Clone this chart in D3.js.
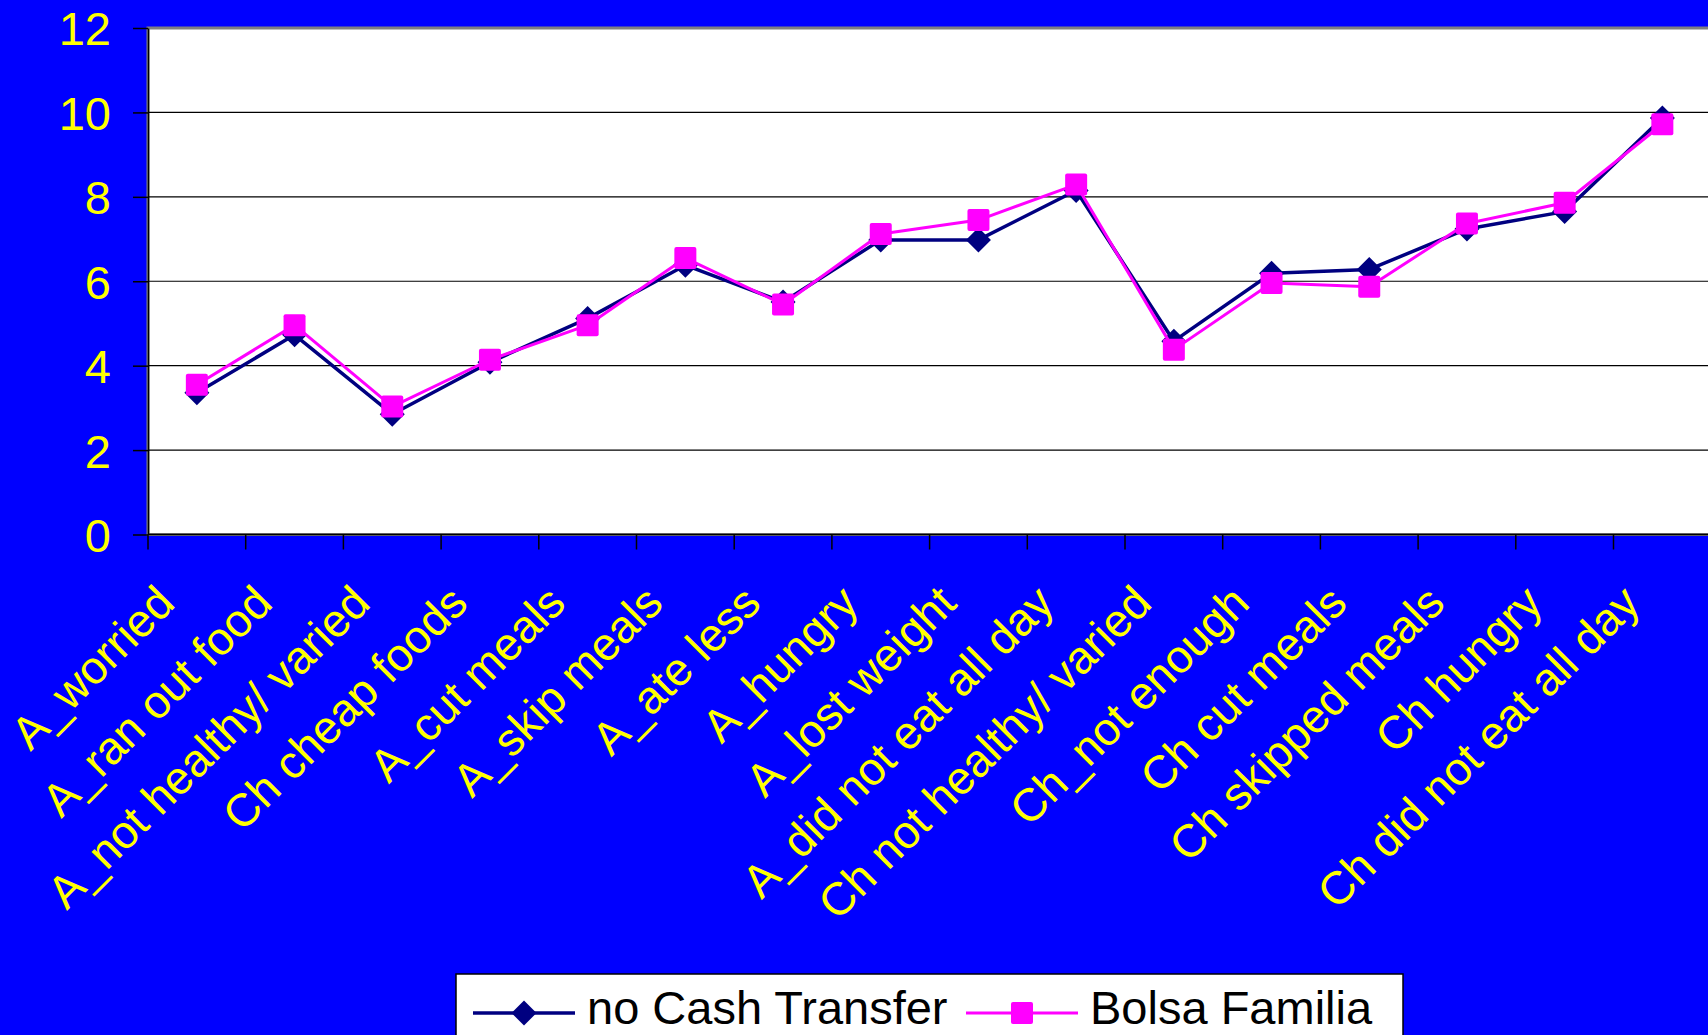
<!DOCTYPE html>
<html><head><meta charset="utf-8">
<script src="https://cdn.jsdelivr.net/npm/d3@7/dist/d3.min.js"></script>
<style>html,body{margin:0;padding:0;background:#0000FF;overflow:hidden}svg{display:block}</style>
</head><body>
<svg id="chart" width="1708" height="1035"></svg>
<script>
const categories = ["A_worried","A_ran out food","A_not healthy/ varied","Ch cheap foods","A_cut meals","A_skip meals","A_ate less","A_hungry","A_lost weight","A_did not eat all day","Ch not healthy/ varied","Ch_not enough","Ch cut meals","Ch skipped meals","Ch hungry","Ch did not eat all day"];
const noCashTransfer = [3.36,4.73,2.85,4.08,5.12,6.38,5.51,6.98,6.98,8.15,4.58,6.19,6.28,7.24,7.65,9.87];
const bolsaFamilia   = [3.55,4.96,3.03,4.14,4.96,6.55,5.45,7.12,7.45,8.29,4.38,5.96,5.87,7.37,7.86,9.72];
const yTicks = [0,2,4,6,8,10,12];
const seriesNames = ["no Cash Transfer","Bolsa Familia"];

(function () {
const svg = d3.select("#chart");
const W = 1708, H = 1035;
const pLeft = 148, pTop = 28, pBottom = 534.5, band = 97.7;
const pRight = pLeft + band * categories.length;
const font = "'Liberation Sans', Arial, sans-serif";

svg.append("rect").attr("width", W).attr("height", H).attr("fill", "#0000FF");

const x = d3.scaleBand().domain(categories).range([pLeft, pRight]).padding(0);
const y = d3.scaleLinear().domain([0, 12]).range([pBottom, pTop]);

// plot area
svg.append("rect").attr("x", pLeft).attr("y", pTop).attr("width", pRight - pLeft).attr("height", pBottom - pTop)
  .attr("fill", "#FFFFFF").attr("stroke", "#808080").attr("stroke-width", 3);

// gridlines
svg.append("g").selectAll("line").data(yTicks.filter(d => d > 0 && d < 12)).join("line")
  .attr("x1", pLeft).attr("x2", pRight).attr("y1", d => y(d)).attr("y2", d => y(d))
  .attr("stroke", "#000").attr("stroke-width", 1.2);

// y axis
const yAxis = d3.axisLeft(y).tickValues(yTicks).tickSize(15).tickSizeOuter(0).tickPadding(22);
const gy = svg.append("g").attr("transform", `translate(${pLeft},0)`).call(yAxis);
gy.select(".domain").attr("stroke", "#000").attr("stroke-width", 1.5);
gy.selectAll(".tick line").attr("stroke", "#000").attr("stroke-width", 1.5);
gy.selectAll(".tick text").attr("fill", "#FFFF00").attr("font-family", font).attr("font-size", 47)
  .attr("dy", "0.36em");

// x axis line & ticks at band edges
svg.append("line").attr("x1", pLeft).attr("x2", pRight).attr("y1", pBottom).attr("y2", pBottom)
  .attr("stroke", "#000").attr("stroke-width", 1.5);
svg.append("g").selectAll("line").data(categories).join("line")
  .attr("x1", d => x(d)).attr("x2", d => x(d)).attr("y1", pBottom).attr("y2", pBottom + 15)
  .attr("stroke", "#000").attr("stroke-width", 1.5);

// x labels
svg.append("g").selectAll("text").data(categories).join("text")
  .attr("transform", d => `translate(${x(d) + band / 2 - 20},${pBottom + 71}) rotate(-45)`)
  .attr("text-anchor", "end").attr("fill", "#FFFF00").attr("font-family", font).attr("font-size", 46)
  .text(d => d);

// lines
const cx = (d, i) => x(categories[i]) + band / 2;
const line = d3.line().x(cx).y(d => y(d));
svg.append("path").datum(noCashTransfer).attr("d", line).attr("fill", "none")
  .attr("stroke", "#000080").attr("stroke-width", 3.5).attr("stroke-linejoin", "round");
const diamond = s => `M0,${-s}L${s},0L0,${s}L${-s},0Z`;
svg.append("g").selectAll("path").data(noCashTransfer).join("path")
  .attr("d", diamond(12.5)).attr("transform", (d, i) => `translate(${cx(d, i)},${y(d)})`)
  .attr("fill", "#000080");

svg.append("path").datum(bolsaFamilia).attr("d", line).attr("fill", "none")
  .attr("stroke", "#FF00FF").attr("stroke-width", 3).attr("stroke-linejoin", "round");
svg.append("g").selectAll("rect").data(bolsaFamilia).join("rect")
  .attr("x", (d, i) => cx(d, i) - 11).attr("y", d => y(d) - 11).attr("width", 22).attr("height", 22)
  .attr("rx", 2).attr("fill", "#FF00FF");

// legend
const lg = svg.append("g");
lg.append("rect").attr("x", 456).attr("y", 974).attr("width", 947).attr("height", 80)
  .attr("fill", "#FFFFFF").attr("stroke", "#000").attr("stroke-width", 1.5);
const ly = 1013;
lg.append("line").attr("x1", 473).attr("x2", 575).attr("y1", ly).attr("y2", ly).attr("stroke", "#000080").attr("stroke-width", 3.5);
lg.append("path").attr("d", diamond(12.5)).attr("transform", `translate(524,${ly})`).attr("fill", "#000080");
lg.append("text").attr("x", 587).attr("y", 1024).attr("font-family", font).attr("font-size", 47)
  .attr("fill", "#000").text(seriesNames[0]);
lg.append("line").attr("x1", 966).attr("x2", 1078).attr("y1", ly).attr("y2", ly).attr("stroke", "#FF00FF").attr("stroke-width", 3);
lg.append("rect").attr("x", 1011).attr("y", ly - 11).attr("width", 22).attr("height", 22).attr("rx", 2).attr("fill", "#FF00FF");
lg.append("text").attr("x", 1090).attr("y", 1024).attr("font-family", font).attr("font-size", 47)
  .attr("fill", "#000").text(seriesNames[1]);
})();
</script>
</body></html>
